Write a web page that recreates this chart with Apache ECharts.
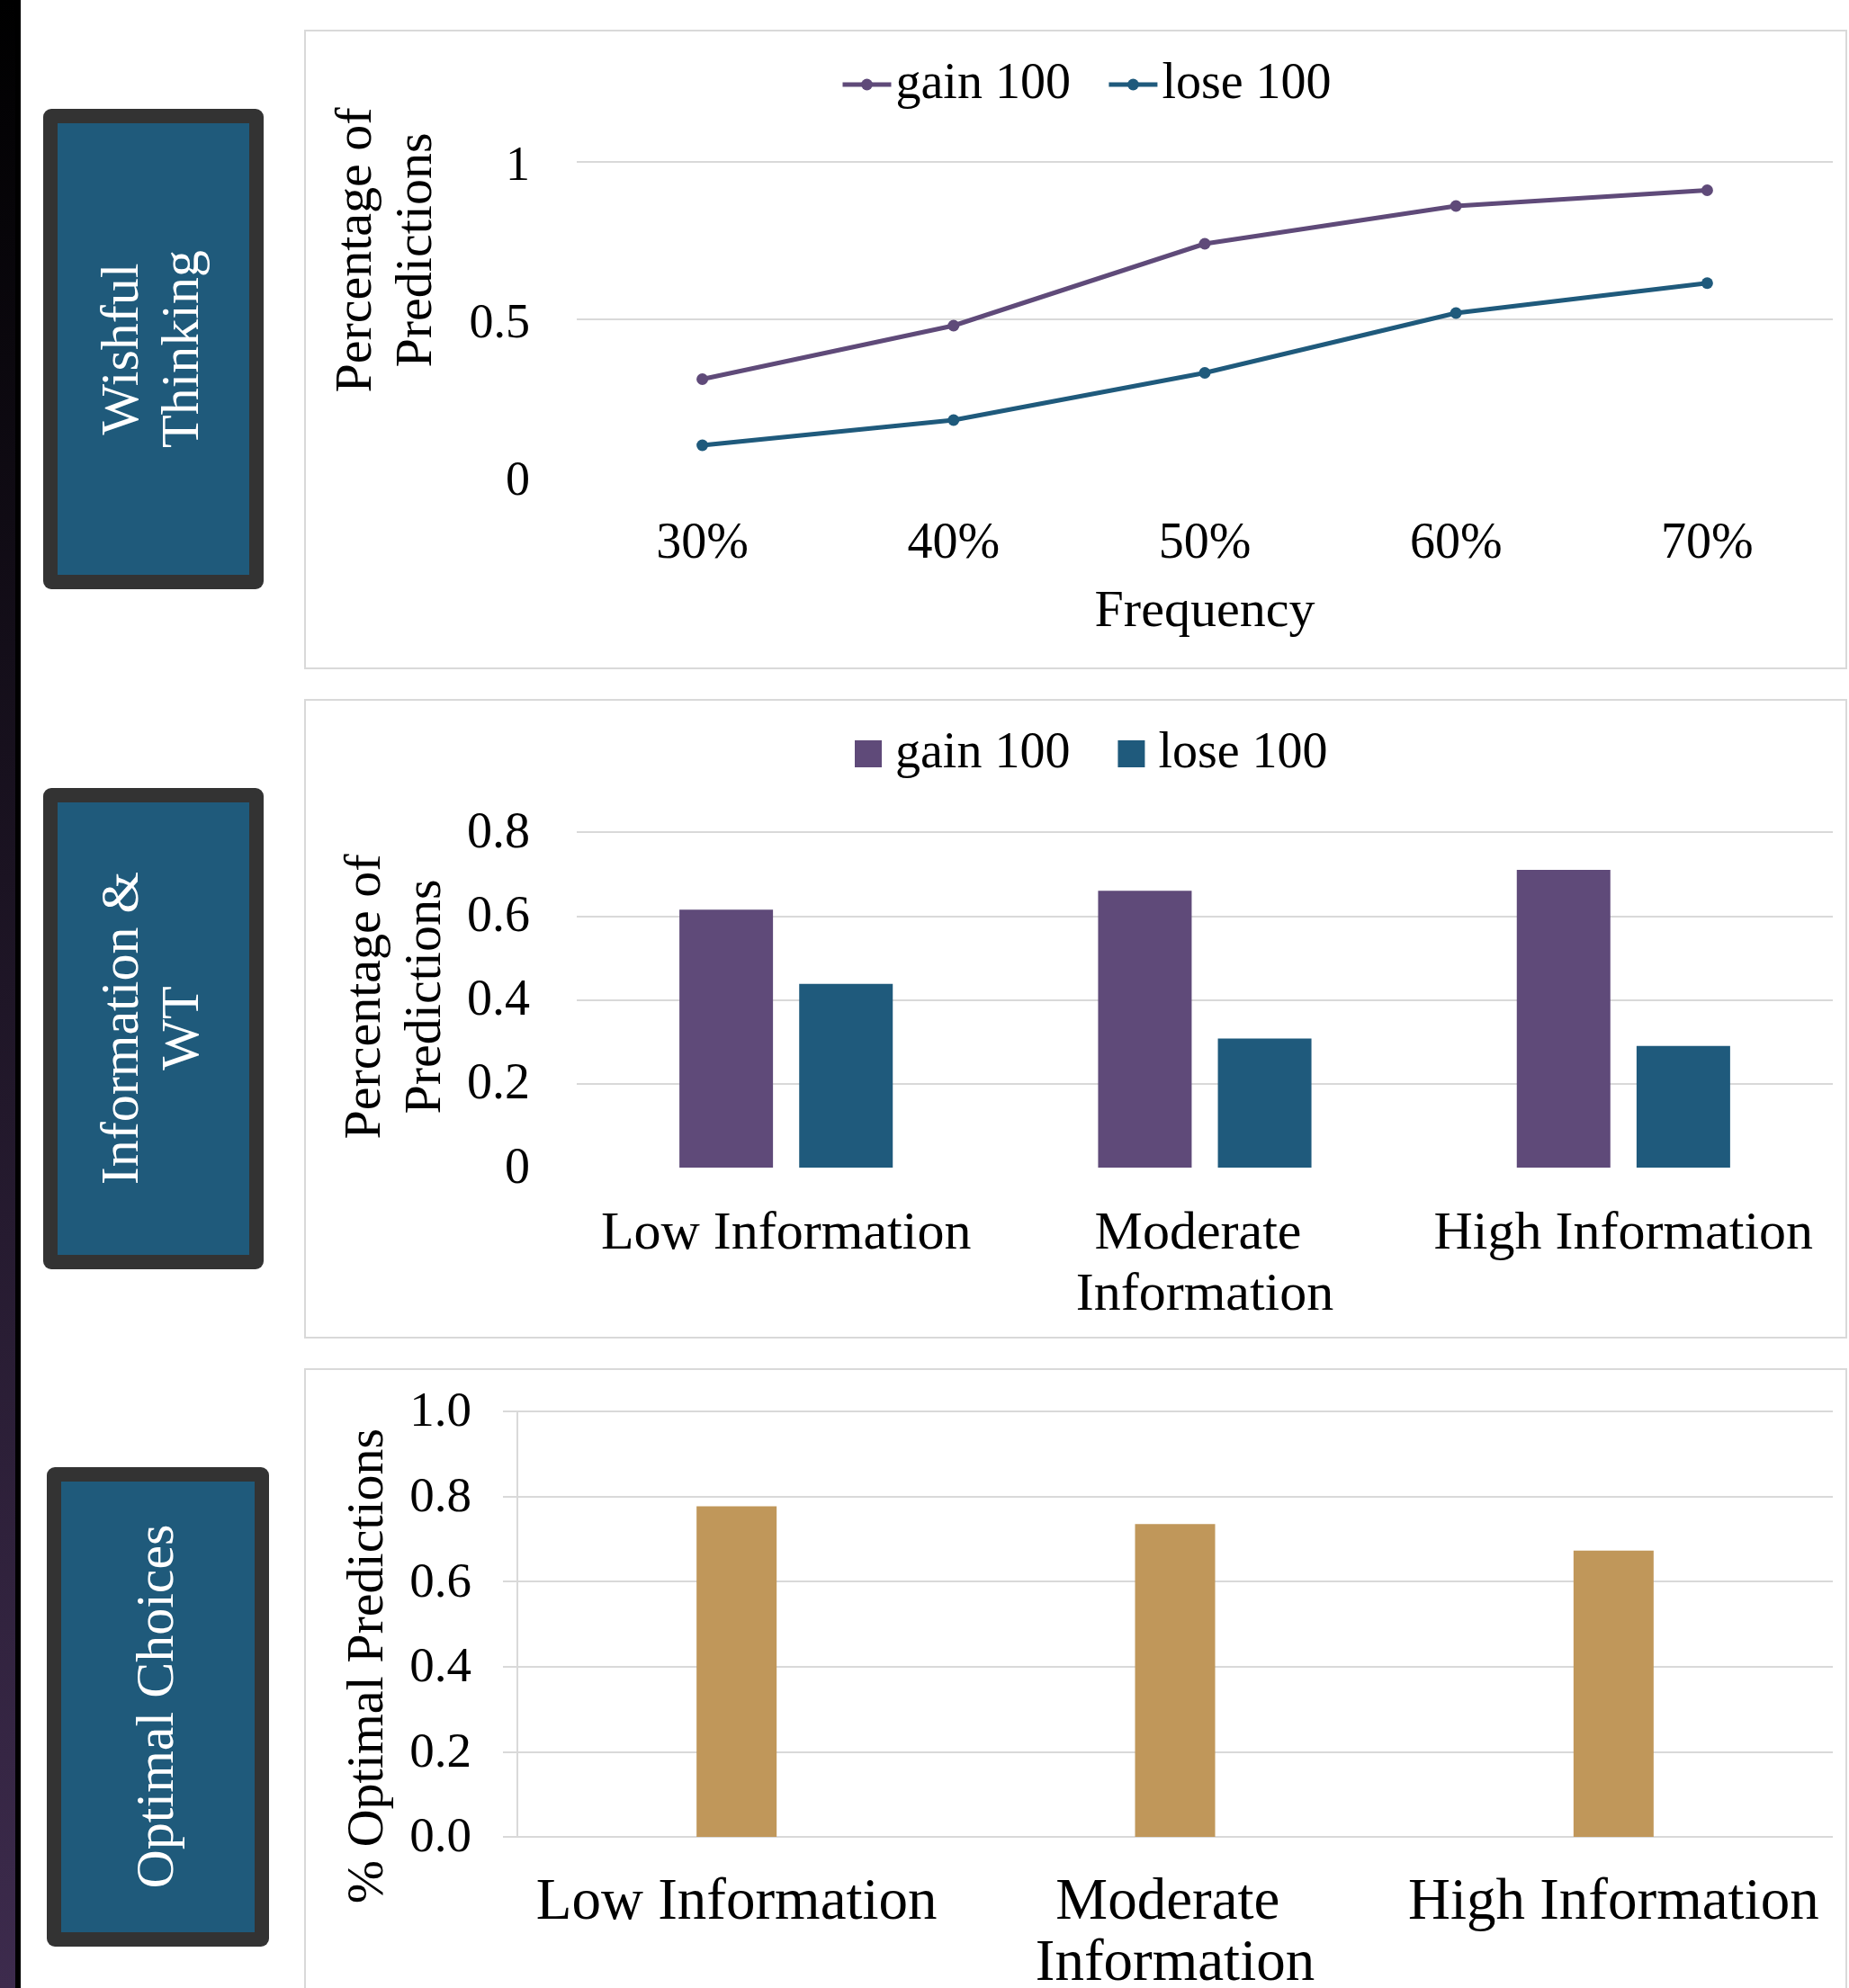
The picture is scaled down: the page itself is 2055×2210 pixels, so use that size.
<!DOCTYPE html>
<html>
<head>
<meta charset="utf-8">
<title>Wishful Thinking, Information and Optimal Choices</title>
<script src="https://cdn.jsdelivr.net/npm/echarts@6/dist/echarts.min.js"></script>
<style>
  html, body { margin: 0; padding: 0; background: #ffffff; }
  #chart { width: 2055px; height: 2210px; }
</style>
</head>
<body>
<div id="chart"></div>
<script>
// ---- data ----
const frequencyLabels = ['30%', '40%', '50%', '60%', '70%'];
const wtGain = [0.31, 0.48, 0.74, 0.86, 0.91];
const wtLose = [0.10, 0.18, 0.33, 0.52, 0.615];

const infoLevels = ['Low Information', 'Moderate Information', 'High Information'];
const infoGain = [0.615, 0.66, 0.71];
const infoLose = [0.438, 0.308, 0.29];

const optimalShare = [0.777, 0.735, 0.673];

const wtTicks = { min: 0, max: 1, interval: 0.5 };
const infoTicks = { min: 0, max: 0.8, interval: 0.2 };
const optTicks = { min: 0, max: 1, interval: 0.2 };

const sectionTitles = ['Wishful\nThinking', 'Information &\nWT', 'Optimal Choices'];

// ---- styling ----
const FONT = 'Liberation Serif';
const PURPLE = '#5f4a79';
const TEAL = '#1f5a7c';
const GOLD = '#c0975a';
const GRID = '#d9d9d9';

const chart = echarts.init(document.getElementById('chart'), null, { renderer: 'canvas' });

function panelRect(y, h) {
  return { type: 'rect', shape: { x: 339, y: y, width: 1713, height: h },
           style: { fill: 'none', stroke: GRID, lineWidth: 2 }, z: 0 };
}
function sectionBox(x, y, w, h, label, cx, cy) {
  return [
    { type: 'rect', shape: { x: x, y: y, width: w, height: h, r: 9 }, style: { fill: '#333333' }, z: 1 },
    { type: 'rect', shape: { x: x + 16, y: y + 16, width: w - 32, height: h - 32 }, style: { fill: '#1f5a7b' }, z: 2 },
    { type: 'text', x: cx, y: cy, rotation: Math.PI / 2, z: 3,
      style: { text: label, fill: '#ffffff', fontSize: 60, fontFamily: FONT,
               lineHeight: 67, align: 'center', verticalAlign: 'middle' } }
  ];
}
function axisTitle(text, cx, cy) {
  return { type: 'text', x: cx, y: cy, rotation: Math.PI / 2, z: 3,
    style: { text: text, fill: '#000', fontSize: 58, fontFamily: FONT, lineHeight: 67,
             align: 'center', verticalAlign: 'middle' } };
}
// value labels nudged slightly below their grid line
function tickLabel(size, pad, digits) {
  return {
    fontFamily: FONT, color: '#000', fontSize: size, margin: 52,
    formatter: v => '{v|' + (digits == null ? String(v) : v.toFixed(digits)) + '}',
    rich: { v: { fontFamily: FONT, fontSize: size, color: '#000', padding: [pad, 0, 0, 0] } }
  };
}

const labelStyle = { fontFamily: FONT, color: '#000' };

const option = {
  backgroundColor: '#ffffff',
  animation: false,
  graphic: [
    // dark side strip
    { type: 'rect', shape: { x: 0, y: 0, width: 18, height: 2210 },
      style: { fill: new echarts.graphic.LinearGradient(0, 0, 0, 1, [
        { offset: 0, color: '#000000' }, { offset: 1, color: '#3d2b4d' }]) }, z: 1 },
    { type: 'rect', shape: { x: 17, y: 0, width: 6, height: 2210 }, style: { fill: '#000000' }, z: 1 },
    panelRect(34, 709),
    panelRect(778, 709),
    panelRect(1522, 700),
    ...sectionBox(48, 121, 245, 534, sectionTitles[0], 171, 388),
    ...sectionBox(48, 876, 245, 535, sectionTitles[1], 171, 1143),
    ...sectionBox(52, 1631, 247, 533, sectionTitles[2], 176, 1897),
    axisTitle('Percentage of\nPredictions', 430, 278),
    axisTitle('Percentage of\nPredictions', 440, 1108),
    axisTitle('% Optimal Predictions', 410, 1852)
  ],
  legend: [
    { left: 929, top: 61, itemWidth: 54, itemHeight: 16, itemGap: 40,
      lineStyle: { width: 5 },
      data: [{ name: 'gain 100' }, { name: 'lose 100' }],
      textStyle: { fontFamily: FONT, fontSize: 56, color: '#000' } },
    { left: 945, top: 805, itemWidth: 30, itemHeight: 30, itemGap: 53,
      data: [{ name: 'gain 100', icon: 'rect', itemStyle: { color: PURPLE, borderWidth: 0 } },
             { name: 'lose 100', icon: 'rect', itemStyle: { color: TEAL, borderWidth: 0 } }],
      textStyle: { fontFamily: FONT, fontSize: 56, color: '#000', padding: [0, 0, 0, 10] } }
  ],
  grid: [
    { left: 641, top: 180, width: 1396, height: 350, outerBoundsMode: 'none' },
    { left: 641, top: 925, width: 1396, height: 373, outerBoundsMode: 'none' },
    { left: 575, top: 1569, width: 1462, height: 473, outerBoundsMode: 'none' }
  ],
  xAxis: [
    { type: 'category', gridIndex: 0, data: frequencyLabels, boundaryGap: true,
      axisLine: { show: false }, axisTick: { show: false },
      axisLabel: { ...labelStyle, fontSize: 56, margin: 45, lineHeight: 60 },
      name: 'Frequency', nameLocation: 'middle', nameGap: 122,
      nameTextStyle: { fontFamily: FONT, fontSize: 58, color: '#000' } },
    { type: 'category', gridIndex: 1, data: infoLevels,
      axisLine: { show: false }, axisTick: { show: false },
      axisLabel: { ...labelStyle, fontSize: 60, margin: 40, lineHeight: 68, width: 460, overflow: 'break', interval: 0 } },
    { type: 'category', gridIndex: 2, data: infoLevels,
      axisLine: { show: false }, axisTick: { show: false },
      axisLabel: { ...labelStyle, fontSize: 65, margin: 40, lineHeight: 68, width: 480, overflow: 'break', interval: 0 } }
  ],
  yAxis: [
    { type: 'value', gridIndex: 0, ...wtTicks,
      axisLine: { show: false }, axisTick: { show: false },
      splitLine: { show: true, showMinLine: false, lineStyle: { color: GRID, width: 2 } },
      axisLabel: tickLabel(54, 12) },
    { type: 'value', gridIndex: 1, ...infoTicks,
      axisLine: { show: false }, axisTick: { show: false },
      splitLine: { show: true, showMinLine: false, lineStyle: { color: GRID, width: 2 } },
      axisLabel: tickLabel(56, 4) },
    { type: 'value', gridIndex: 2, ...optTicks,
      axisLine: { show: true, lineStyle: { color: GRID, width: 2 } },
      axisTick: { show: true, inside: false, length: 16, lineStyle: { color: GRID, width: 2 } },
      splitLine: { show: true, lineStyle: { color: GRID, width: 2 } },
      axisLabel: { ...tickLabel(55, 4, 1), margin: 51 } }
  ],
  series: [
    { name: 'gain 100', type: 'line', xAxisIndex: 0, yAxisIndex: 0, data: wtGain,
      symbol: 'circle', symbolSize: 13, color: PURPLE,
      lineStyle: { color: PURPLE, width: 5 }, itemStyle: { color: PURPLE, borderWidth: 0 } },
    { name: 'lose 100', type: 'line', xAxisIndex: 0, yAxisIndex: 0, data: wtLose,
      symbol: 'circle', symbolSize: 13, color: TEAL,
      lineStyle: { color: TEAL, width: 5 }, itemStyle: { color: TEAL, borderWidth: 0 } },
    { name: 'gain 100', type: 'bar', xAxisIndex: 1, yAxisIndex: 1, data: infoGain,
      barWidth: 104, barGap: '28%', itemStyle: { color: PURPLE } },
    { name: 'lose 100', type: 'bar', xAxisIndex: 1, yAxisIndex: 1, data: infoLose,
      barWidth: 104, barGap: '28%', itemStyle: { color: TEAL } },
    { name: 'Optimal Predictions', type: 'bar', xAxisIndex: 2, yAxisIndex: 2, data: optimalShare,
      barWidth: 89, itemStyle: { color: GOLD } }
  ]
};

chart.setOption(option);
</script>
</body>
</html>
